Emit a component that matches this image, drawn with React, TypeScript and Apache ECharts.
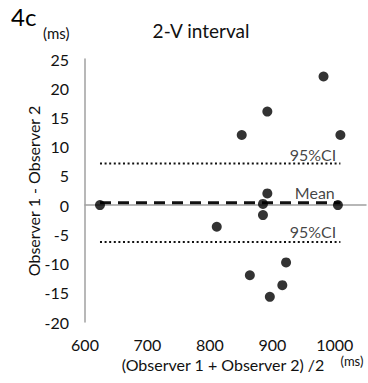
import React, { useEffect, useRef } from "react";
import * as echarts from "echarts";

const points: [number, number][] = [
  [624, 0],
  [811, -3.7],
  [851, 12],
  [864, -12],
  [885, 0.2],
  [885, -1.7],
  [892, 16],
  [892, 2],
  [896, -15.7],
  [916, -13.7],
  [922, -9.8],
  [982, 22],
  [1005, 0],
  [1009, 12],
];
const lineXRange = [624, 1009];
const meanValue = 0.4;
const upperCI = 7.1;
const lowerCI = -6.3;
const labelItems: { x: number; y: number; text: string }[] = [
  { x: 965, y: 8.6, text: "95%CI" },
  { x: 968, y: 2.1, text: "Mean" },
  { x: 965, y: -4.6, text: "95%CI" },
];

const FONT = "Lato";
const TXT = "#111";

export default function App() {
  const ref = useRef<HTMLDivElement>(null);
  useEffect(() => {
    const chart = echarts.init(ref.current!, undefined, { renderer: "svg" });
    chart.setOption({
      animation: false,
      textStyle: { fontFamily: FONT, color: TXT },
      grid: { left: 85, right: 2, top: 59, bottom: 61 },
      xAxis: {
        type: "value",
        min: 600,
        max: 1050,
        interval: 50,
        axisLine: { show: true, lineStyle: { color: "#a0a0a0", width: 1.5 } },
        axisTick: { show: false },
        splitLine: { show: false },
        axisLabel: {
          fontSize: 16,
          color: TXT,
          fontFamily: FONT,
          margin: 14,
          showMaxLabel: false,
          formatter: (v: number) => (v % 100 === 0 ? String(v) : ""),
        },
      },
      yAxis: {
        type: "value",
        min: -20,
        max: 25,
        interval: 5,
        axisLine: { show: true, lineStyle: { color: "#a0a0a0", width: 1.5 } },
        axisTick: { show: false },
        splitLine: { show: false },
        axisLabel: { fontSize: 16, color: TXT, fontFamily: FONT, margin: 16 },
      },
      graphic: [
        { type: "text", left: 11, top: 4, style: { text: "4c", fontSize: 24, fontFamily: FONT, fill: "#000" } },
        { type: "text", left: 43, top: 25, style: { text: "(ms)", fontSize: 15, fontFamily: FONT, fill: TXT } },
        { type: "text", x: 201, y: 30, style: { text: "2-V interval", fontSize: 19, fontFamily: FONT, fill: TXT, align: "center", verticalAlign: "middle" } },
        { type: "text", x: 33, y: 191, rotation: Math.PI / 2, style: { text: "Observer 1 - Observer 2", fontSize: 16, fontFamily: FONT, fill: TXT, align: "center", verticalAlign: "middle" } },
        { type: "text", x: 223, y: 364, style: { text: "(Observer 1 + Observer 2) /2", fontSize: 16, fontFamily: FONT, fill: TXT, align: "center", verticalAlign: "middle" } },
        { type: "text", x: 352, y: 361, style: { text: "(ms)", fontSize: 13, fontFamily: FONT, fill: TXT, align: "center", verticalAlign: "middle" } },
      ],
      series: [
        {
          type: "line",
          data: [[lineXRange[0], upperCI], [lineXRange[1], upperCI]],
          symbol: "none",
          lineStyle: { color: "#111", width: 2, type: [2, 2.6] },
          z: 1,
        },
        {
          type: "line",
          data: [[lineXRange[0], lowerCI], [lineXRange[1], lowerCI]],
          symbol: "none",
          lineStyle: { color: "#111", width: 2, type: [2, 2.6] },
          z: 1,
        },
        {
          type: "line",
          data: [[lineXRange[0], meanValue], [lineXRange[1], meanValue]],
          symbol: "none",
          lineStyle: { color: "#111", width: 3, type: [11, 7] },
          z: 1,
        },
        {
          type: "scatter",
          data: points,
          symbol: "circle",
          symbolSize: 10,
          itemStyle: { color: "#000" },
          z: 3,
        },
        {
          type: "scatter",
          data: labelItems.map((d) => ({ value: [d.x, d.y], name: d.text })),
          symbolSize: 0,
          silent: true,
          label: {
            show: true,
            position: "inside",
            formatter: (p: any) => p.name,
            fontSize: 16,
            fontFamily: FONT,
            color: TXT,
          },
          z: 2,
        },
      ],
    });
    return () => chart.dispose();
  }, []);
  return <div ref={ref} style={{ width: 368, height: 383, position: "absolute", left: 0, top: 0 }} />;
}
